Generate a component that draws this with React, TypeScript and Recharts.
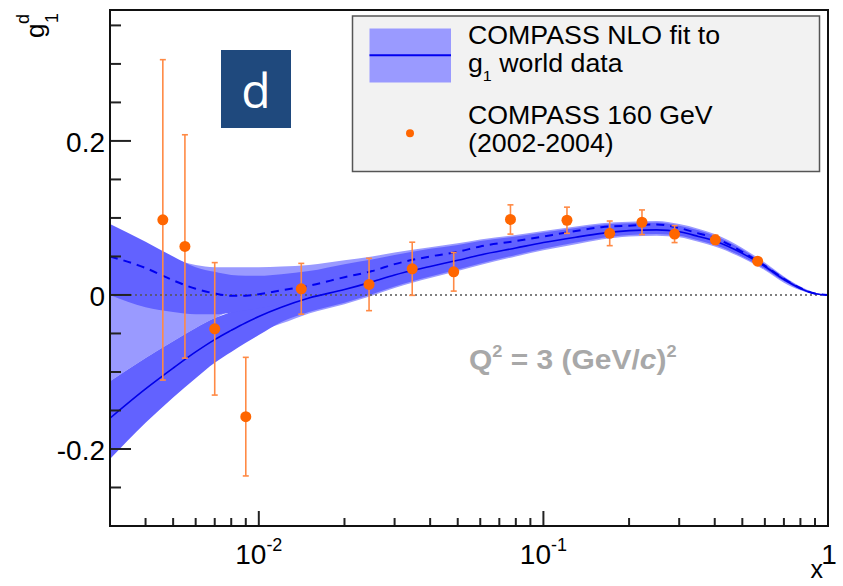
import React from "react";
import {
  ComposedChart,
  Area,
  Line,
  Scatter,
  ErrorBar,
  XAxis,
  YAxis,
  ReferenceLine,
} from "recharts";

// x grid for the fitted curves
const xGrid = [
  0.003, 0.004, 0.005, 0.006, 0.007, 0.008, 0.009, 0.01, 0.012, 0.015, 0.02,
  0.025, 0.03, 0.04, 0.05, 0.06, 0.08, 0.1, 0.13, 0.16, 0.2, 0.25, 0.3, 0.35,
  0.4, 0.5, 0.6, 0.7, 0.8, 0.9, 1.0,
];

// fit with positive gluon (dashed) and its band
const dashedFit = [
  0.05, 0.035, 0.019, 0.008, 0.002, -0.001, -0.001, 0.001, 0.006, 0.012, 0.023,
  0.031, 0.04, 0.05, 0.056, 0.063, 0.07, 0.076, 0.083, 0.088, 0.09, 0.0915,
  0.087, 0.08, 0.074, 0.056, 0.038, 0.021, 0.009, 0.002, 0.0,
];
const dashedLow = [
  0.0, -0.016, -0.022, -0.025, -0.025, -0.023, -0.02, -0.017, -0.012, -0.006,
  0.004, 0.013, 0.021, 0.032, 0.04, 0.047, 0.057, 0.064, 0.071, 0.077, 0.08,
  0.081, 0.078, 0.072, 0.066, 0.05, 0.034, 0.018, 0.007, 0.0012, 0.0,
];
const dashedHigh = [
  0.092, 0.069, 0.05, 0.036, 0.03, 0.026, 0.025, 0.025, 0.027, 0.031, 0.04,
  0.046, 0.052, 0.06, 0.065, 0.07, 0.076, 0.081, 0.087, 0.091, 0.093, 0.094,
  0.09, 0.084, 0.077, 0.059, 0.04, 0.023, 0.01, 0.0025, 0.0,
];

// fit with negative gluon (solid) and its band
const solidFit = [
  -0.16, -0.122, -0.095, -0.074, -0.058, -0.046, -0.036, -0.028, -0.016,
  -0.004, 0.007, 0.017, 0.026, 0.037, 0.045, 0.052, 0.061, 0.068, 0.075, 0.08,
  0.0835, 0.0845, 0.082, 0.076, 0.07, 0.054, 0.037, 0.02, 0.0085, 0.0015, 0.0,
];
const solidLow = [
  -0.213, -0.166, -0.133, -0.108, -0.088, -0.074, -0.062, -0.052, -0.035,
  -0.022, -0.01, 0.001, 0.011, 0.024, 0.033, 0.041, 0.052, 0.06, 0.068, 0.074,
  0.078, 0.079, 0.077, 0.071, 0.065, 0.05, 0.034, 0.018, 0.007, 0.0012, 0.0,
];
const solidHigh = [
  -0.112, -0.082, -0.06, -0.043, -0.03, -0.022, -0.014, -0.008, 0.001, 0.01,
  0.02, 0.028, 0.036, 0.046, 0.053, 0.059, 0.067, 0.074, 0.08, 0.085, 0.088,
  0.089, 0.086, 0.08, 0.074, 0.057, 0.039, 0.022, 0.009, 0.002, 0.0,
];

// light outer envelope
const lightLow = [
  -0.112, -0.082, -0.06, -0.043, -0.03, -0.022, -0.03, -0.045, -0.037, -0.024,
  -0.012, -0.001, 0.009, 0.022, 0.031, 0.039, 0.05, 0.058, 0.066, 0.072, 0.076,
  0.077, 0.075, 0.069, 0.063, 0.048, 0.032, 0.016, 0.006, 0.0008, 0.0,
];
const lightHigh = [
  0.085, 0.063, 0.047, 0.039, 0.036, 0.036, 0.036, 0.036, 0.037, 0.039, 0.045,
  0.05, 0.055, 0.062, 0.067, 0.072, 0.078, 0.083, 0.089, 0.093, 0.095, 0.096,
  0.092, 0.086, 0.079, 0.061, 0.042, 0.024, 0.011, 0.003, 0.0,
];

// COMPASS 160 GeV data points
const pointX = [
  0.0046, 0.0055, 0.007, 0.009, 0.0141, 0.0244, 0.0346, 0.0484, 0.0766, 0.121,
  0.171, 0.222, 0.289, 0.402, 0.566,
];
const pointY = [
  0.0975, 0.063, -0.044, -0.158, 0.008, 0.0136, 0.034, 0.03, 0.098, 0.097,
  0.08, 0.0944, 0.079, 0.0716, 0.0438,
];
const pointErr = [
  0.208, 0.145, 0.086, 0.077, 0.033, 0.034, 0.0345, 0.025, 0.019, 0.017, 0.016,
  0.016, 0.011, 0.006, 0.003,
];

const xTicks = [
  0.004, 0.005, 0.006, 0.007, 0.008, 0.009, 0.01, 0.02, 0.03, 0.04, 0.05, 0.06,
  0.07, 0.08, 0.09, 0.1, 0.2, 0.3, 0.4, 0.5, 0.6, 0.7, 0.8, 0.9, 1,
];
const xLabels: Record<string, [string, string]> = {
  "0.01": ["10", "-2"],
  "0.1": ["10", "-1"],
  "1": ["1", ""],
};
const yTicks = [
  -0.25, -0.2, -0.15, -0.1, -0.05, 0, 0.05, 0.1, 0.15, 0.2, 0.25, 0.3, 0.35,
];
const yLabels: Record<string, string> = { "-0.2": "-0.2", "0": "0", "0.2": "0.2" };

const FONT = "'Liberation Sans', Arial, Helvetica, sans-serif";
const LIGHT = "#9a9aff";
const MEDIUM = "#6262ff";
const ORANGE = "#ff6600";

const curveData = xGrid.map((x, i) => ({
  x,
  dashed: dashedFit[i],
  solid: solidFit[i],
  dashedBand: [dashedLow[i], dashedHigh[i]],
  solidBand: [solidLow[i], solidHigh[i]],
  lightBand: [lightLow[i], lightHigh[i]],
}));

const points = pointX.map((x, i) => ({ x, y: pointY[i], err: pointErr[i] }));

function XTick(props: any) {
  const { x, y, payload } = props;
  const key = String(payload.value);
  const label = xLabels[key];
  return (
    <g>
      <line x1={x} x2={x} y1={y} y2={y - (label ? 15 : 8)} stroke="#222" strokeWidth={2} />
      {label && (
        <text x={label[1] ? x : x + 1} y={y + 38} textAnchor="middle" fontSize={28} fontFamily={FONT} fill="#000">
          {label[0]}
          {label[1] && (
            <tspan dy={-13} fontSize={18}>
              {label[1]}
            </tspan>
          )}
        </text>
      )}
    </g>
  );
}

function YTick(props: any) {
  const { x, y, payload } = props;
  const label = yLabels[String(payload.value)];
  return (
    <g>
      <line x1={x} x2={x + (label ? 21 : 11)} y1={y} y2={y} stroke="#222" strokeWidth={2} />
      {label && (
        <text x={x - 5} y={y + 11} textAnchor="end" fontSize={28} fontFamily={FONT} fill="#000">
          {label}
        </text>
      )}
    </g>
  );
}

const Dot = (props: any) => <circle cx={props.cx} cy={props.cy} r={5.5} fill={ORANGE} />;

export default function App() {
  return (
    <div style={{ position: "absolute", left: 0, top: 0, width: 843, height: 586, background: "#fff" }}>
      <ComposedChart width={843} height={586} data={curveData} margin={{ top: 10, right: 15, left: 0, bottom: 0 }}>
        <XAxis
          dataKey="x"
          type="number"
          scale="log"
          domain={[0.003, 1]}
          allowDataOverflow
          ticks={xTicks}
          interval={0}
          tick={<XTick />}
          tickLine={false}
          axisLine={false}
          tickSize={0}
          tickMargin={0}
          height={60}
        />
        <YAxis
          type="number"
          domain={[-0.3, 0.37]}
          allowDataOverflow
          ticks={yTicks}
          interval={0}
          tick={<YTick />}
          tickLine={false}
          axisLine={false}
          tickSize={0}
          tickMargin={0}
          width={110}
        />
        <Area dataKey="lightBand" type="monotone" fill={LIGHT} fillOpacity={1} stroke="none" isAnimationActive={false} />
        <Area dataKey="solidBand" type="monotone" fill={MEDIUM} fillOpacity={1} stroke="none" isAnimationActive={false} />
        <Area dataKey="dashedBand" type="monotone" fill={MEDIUM} fillOpacity={1} stroke="none" isAnimationActive={false} />
        <ReferenceLine y={0} stroke="#555" strokeWidth={1.5} strokeDasharray="2 3" />
        <Line dataKey="dashed" type="monotone" stroke="#0000f0" strokeWidth={2} strokeDasharray="8 6" dot={false} isAnimationActive={false} />
        <Line dataKey="solid" type="monotone" stroke="#0000e8" strokeWidth={1.6} dot={false} isAnimationActive={false} />
        <Scatter data={points} dataKey="y" shape={<Dot />} isAnimationActive={false}>
          <ErrorBar dataKey="err" direction="y" width={3} stroke="#ff8a45" strokeWidth={1.6} />
        </Scatter>
      </ComposedChart>

      <svg width={843} height={586} style={{ position: "absolute", left: 0, top: 0, pointerEvents: "none" }} fontFamily={FONT}>
        <rect x={110} y={10} width={718} height={516} fill="none" stroke="#111" strokeWidth={2} />

        {/* legend */}
        <rect x={352.5} y={16} width={467} height={155.5} fill="#f2f2f2" stroke="#555" strokeWidth={1.5} />
        <rect x={369.5} y={28.5} width={81.5} height={54} fill={LIGHT} />
        <line x1={369.5} x2={451} y1={55.3} y2={55.3} stroke="#0000f0" strokeWidth={2} />
        <circle cx={410} cy={133.3} r={4} fill={ORANGE} />
        <g fontSize={25} fill="#000">
          <text transform="translate(468,44) scale(1.07,1)">COMPASS NLO fit to</text>
          <text transform="translate(468,72) scale(1.07,1)">
            g<tspan dy={9} fontSize={15}>1</tspan>
            <tspan dy={-9}> world data</tspan>
          </text>
          <text transform="translate(468,124) scale(1.07,1)">COMPASS 160 GeV</text>
          <text transform="translate(468,152) scale(1.07,1)">(2002-2004)</text>
        </g>

        {/* panel tag */}
        <rect x={221} y={50} width={70} height={78} fill="#1f497d" />
        <text x={256} y={108} textAnchor="middle" fontSize={48} fill="#fff" fontFamily="'Open Sans', sans-serif">
          d
        </text>

        {/* Q2 label */}
        <text transform="translate(469,369) scale(1.07,1)" fontSize={28} fontWeight="bold" fill="#a8a8a8">
          Q<tspan dy={-12} fontSize={17}>2</tspan>
          <tspan dy={12}> = 3 (GeV/</tspan>
          <tspan fontStyle="italic">c</tspan>
          <tspan>)</tspan>
          <tspan dy={-12} fontSize={17}>2</tspan>
        </text>

        {/* axis titles */}
        <g transform="translate(44,38) rotate(-90)" fill="#000">
          <text x={0} y={0} fontSize={26}>g</text>
          <text x={14} y={-15} fontSize={18}>d</text>
          <text x={15} y={14} fontSize={18}>1</text>
        </g>
        <text x={823} y={578} textAnchor="end" fontSize={25} fill="#000">
          x
        </text>
      </svg>
    </div>
  );
}
